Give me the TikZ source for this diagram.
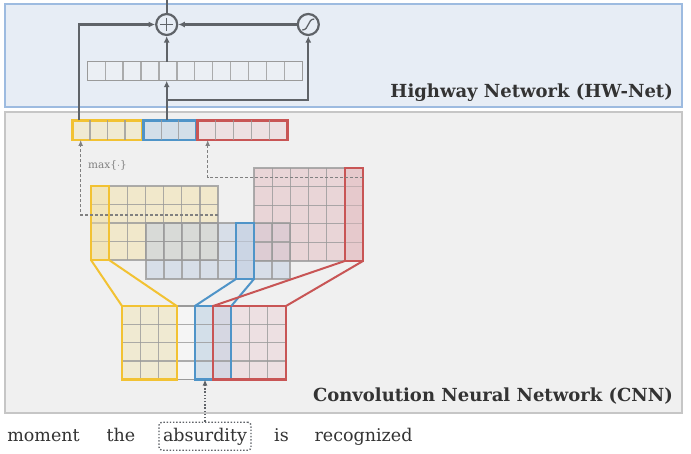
\documentclass[tikz,border=0pt]{standalone}
\usepackage{fontspec}
\setmainfont{DejaVu Serif}
\usetikzlibrary{arrows.meta,calc}
\definecolor{hwfill}{HTML}{E7EDF5}
\definecolor{hwborder}{HTML}{9DBBE0}
\definecolor{cnnfill}{HTML}{F0F0F0}
\definecolor{cnnborder}{HTML}{C6C6C6}
\definecolor{arrowc}{HTML}{5F6368}
\definecolor{gridc}{HTML}{9A9A9A}
\definecolor{vecfill}{HTML}{EBEFF4}
\definecolor{ylw}{HTML}{F2C233}
\definecolor{ylwfill}{HTML}{F2E2A8}
\definecolor{ylwcat}{HTML}{F0EAD2}
\definecolor{blu}{HTML}{4F94C8}
\definecolor{blufill}{HTML}{C4D0E2}
\definecolor{blucat}{HTML}{D3DFE9}
\definecolor{rd}{HTML}{C85555}
\definecolor{rdfill}{HTML}{E4BCC0}
\definecolor{rdcat}{HTML}{EDE0E2}
\definecolor{txtc}{HTML}{333333}
\definecolor{dashc}{HTML}{808080}
\newcommand\gvlines[5]{%
  \pgfmathtruncatemacro\gvn{#5-1}%
  \foreach \gi in {1,...,\gvn}{\draw[gridln] ({#1+\gi*(#3)/#5},{#2}) -- ++(0,#4);}%
}
\newcommand\ghlines[5]{%
  \pgfmathtruncatemacro\ghn{#5-1}%
  \foreach \gi in {1,...,\ghn}{\draw[gridln] ({#1},{#2+\gi*(#4)/#5}) -- ++(#3,0);}%
}
\tikzset{
  rect/.style={rectangle, inner sep=0pt, outer sep=0pt, anchor=north west},
  gridln/.style={draw=gridc, line width=1.3pt, draw opacity=0.8},
  conn/.style={draw=arrowc, line width=2.2pt, -{Latex[length=6.5pt,width=6pt]}},
  connplain/.style={draw=arrowc, line width=2.2pt},
  dasharrow/.style={draw=dashc, line width=1.1pt, dash pattern=on 3pt off 2pt, -{Latex[length=6pt,width=5pt]}},
  dotarrow/.style={draw=arrowc, line width=1.4pt, dash pattern=on 1.4pt off 1.8pt, -{Latex[length=6pt,width=5pt]}},
  opcirc/.style={circle, draw=arrowc, line width=2.2pt, fill=hwfill, minimum size=21pt, inner sep=0pt},
  word/.style={anchor=base, text=txtc, font=\fontsize{17.5}{20}\selectfont, inner sep=0pt},
  title/.style={anchor=base east, text=txtc, font=\fontsize{18}{21}\selectfont\bfseries, inner sep=0pt},
  ylwline/.style={draw=ylw, line width=2pt},
  bluline/.style={draw=blu, line width=2pt},
  rdline/.style={draw=rd, line width=2pt},
  colbox/.style={line width=2.2pt},
}
\begin{document}
\begin{tikzpicture}[x=1pt,y=-1pt]
\useasboundingbox[fill=white] (0,0) rectangle (691,454);
% boxes
\node[rect, fill=hwfill, draw=hwborder, line width=1.8pt, minimum width=677pt, minimum height=103pt] (hw) at (5,4) {};
\node[rect, fill=cnnfill, draw=cnnborder, line width=1.8pt, minimum width=677pt, minimum height=301pt] (cnn) at (5,112) {};
\node[title] (hwlabel) at (673,98) {Highway Network (HW-Net)};
\node[title] (cnnlabel) at (673,402) {Convolution Neural Network (CNN)};

% highway vector
\node[rect, fill=vecfill, draw=gridc, line width=1.3pt, minimum width=215pt, minimum height=19pt] (hwvec) at (87.3,61.7) {};
\gvlines{87.3}{61.7}{215}{19}{12}

% operators
\node[opcirc] (plus) at (166.7,24.5) {};
\draw[arrowc, line width=1.4pt] (plus.center) ++(-6.5,0) -- ++(13,0);
\draw[arrowc, line width=1.4pt] (plus.center) ++(0,-6.5) -- ++(0,13);
\node[opcirc] (sig) at (308.3,24.5) {};
\draw[arrowc, line width=1.3pt] (sig.center) ++(-6,5.5) .. controls ++(7,0) and ++(-7,0) .. ++(12,-11);

% concatenated vector
\node[rect, fill=ylwcat, draw=ylw, colbox, minimum width=70pt, minimum height=19.5pt] (catY) at (72.5,120.5) {};
\gvlines{72.5}{120.5}{70}{19.5}{4}
\node[rect, fill=blucat, draw=blu, colbox, minimum width=53pt, minimum height=19.5pt] (catB) at (143.5,120.5) {};
\gvlines{143.5}{120.5}{53}{19.5}{3}
\node[rect, fill=rdcat, draw=rd, colbox, minimum width=90pt, minimum height=19.5pt] (catR) at (197.5,120.5) {};
\gvlines{197.5}{120.5}{90}{19.5}{5}

% highway connectors
\coordinate (bt) at (166.7,120.5);
\coordinate (br) at (166.7,100);
\coordinate (yt) at (79,120.5);
\coordinate (topend) at (166.7,0);
\draw[conn] (bt) -- (bt |- hwvec.south);
\draw[conn] (br) -| (sig.south);
\draw[conn] (plus |- hwvec.north) -- (plus.south);
\draw[conn] (yt) |- (plus.west);
\draw[conn] (sig.west) -- (plus.east);
\draw[connplain] (plus.north) -- (topend);

% feature maps
\node[rect, fill=ylwfill, fill opacity=0.5, minimum width=127pt, minimum height=74pt] (mapY) at (91,186) {};
\node[rect, fill=blufill, fill opacity=0.55, minimum width=144pt, minimum height=56pt] (mapB) at (146,223) {};
\node[rect, fill=rdfill, fill opacity=0.5, minimum width=109pt, minimum height=93pt] (mapR) at (254,168) {};
\draw[gridln] (mapY.north west) rectangle (mapY.south east);
\gvlines{91}{186}{127}{74}{7}
\ghlines{91}{186}{127}{74}{4}
\draw[gridln] (mapB.north west) rectangle (mapB.south east);
\gvlines{146}{223}{144}{56}{8}
\ghlines{146}{223}{144}{56}{3}
\draw[gridln] (mapR.north west) rectangle (mapR.south east);
\gvlines{254}{168}{109}{93}{6}
\ghlines{254}{168}{109}{93}{5}
\node[rect, draw=ylw, fill=ylwfill, fill opacity=0.45, draw opacity=1, colbox, minimum width=18.1pt, minimum height=74pt] (hlY) at (91,186) {};
\node[rect, draw=blu, fill=blufill, fill opacity=0.6, draw opacity=1, colbox, minimum width=18pt, minimum height=56pt] (hlB) at (236,223) {};
\node[rect, draw=rd, fill=rdfill, fill opacity=0.45, draw opacity=1, colbox, minimum width=18.2pt, minimum height=93pt] (hlR) at (344.8,168) {};

% max pooling
\node[anchor=west, text=dashc, font=\fontsize{10.5}{12}\selectfont, inner sep=0pt] (maxlabel) at (88,165) {max\{$\cdot$\}};
\coordinate (yd) at (80.7,215);
\coordinate (rdd) at (207.7,177.3);
\draw[dasharrow] (mapY.east |- yd) -- (yd) -- (yd |- catY.south);
\draw[dasharrow] (mapR.east |- rdd) -- (rdd) -- (rdd |- catR.south);

% input matrix
\node[rect, fill=white, fill opacity=0.35, draw=gridc, line width=1.3pt, minimum width=164pt, minimum height=73.5pt] (inmat) at (122,306) {};
\node[rect, fill=ylwcat, minimum width=54.7pt, minimum height=73.5pt] (fYf) at (122,306) {};
\node[rect, fill=blucat, minimum width=36.4pt, minimum height=73.5pt] (fBf) at (194.9,306) {};
\node[rect, fill=rdcat, minimum width=72.9pt, minimum height=73.5pt] (fRf) at (213.1,306) {};
\fill[fill=blufill, fill opacity=0.55] (213.1,306) rectangle (231.3,379.5);
\gvlines{122}{306}{164}{73.5}{9}
\ghlines{122}{306}{164}{73.5}{4}
\node[rect, draw=ylw, colbox, minimum width=54.7pt, minimum height=73.5pt] (fY) at (122,306) {};
\node[rect, draw=blu, colbox, minimum width=36.4pt, minimum height=73.5pt] (fB) at (194.9,306) {};
\node[rect, draw=rd, colbox, minimum width=72.9pt, minimum height=73.5pt] (fR) at (213.1,306) {};

% filter connectors
\draw[ylwline] (fY.north west) -- (hlY.south west);
\draw[ylwline] (fY.north east) -- (hlY.south east);
\draw[bluline] (fB.north west) -- (hlB.south west);
\draw[bluline] (fB.north east) -- (hlB.south east);
\draw[rdline] (fR.north west) -- (hlR.south west);
\draw[rdline] (fR.north east) -- (hlR.south east);

% words
\node[word] (w1) at (43.5,441.7) {moment};
\node[word] (w2) at (121,441.7) {the};
\node[word, draw=arrowc, line width=1.4pt, dash pattern=on 1.4pt off 1.8pt, rounded corners=3pt, text height=14pt, text depth=3pt, inner ysep=5.5pt, minimum width=92pt] (w3) at (205,441.7) {absurdity};
\node[word] (w4) at (281.5,441.7) {is};
\node[word] (w5) at (363.5,441.7) {recognized};
\draw[dotarrow] (w3.north) -- (w3.north |- inmat.south);
\end{tikzpicture}
\end{document}
